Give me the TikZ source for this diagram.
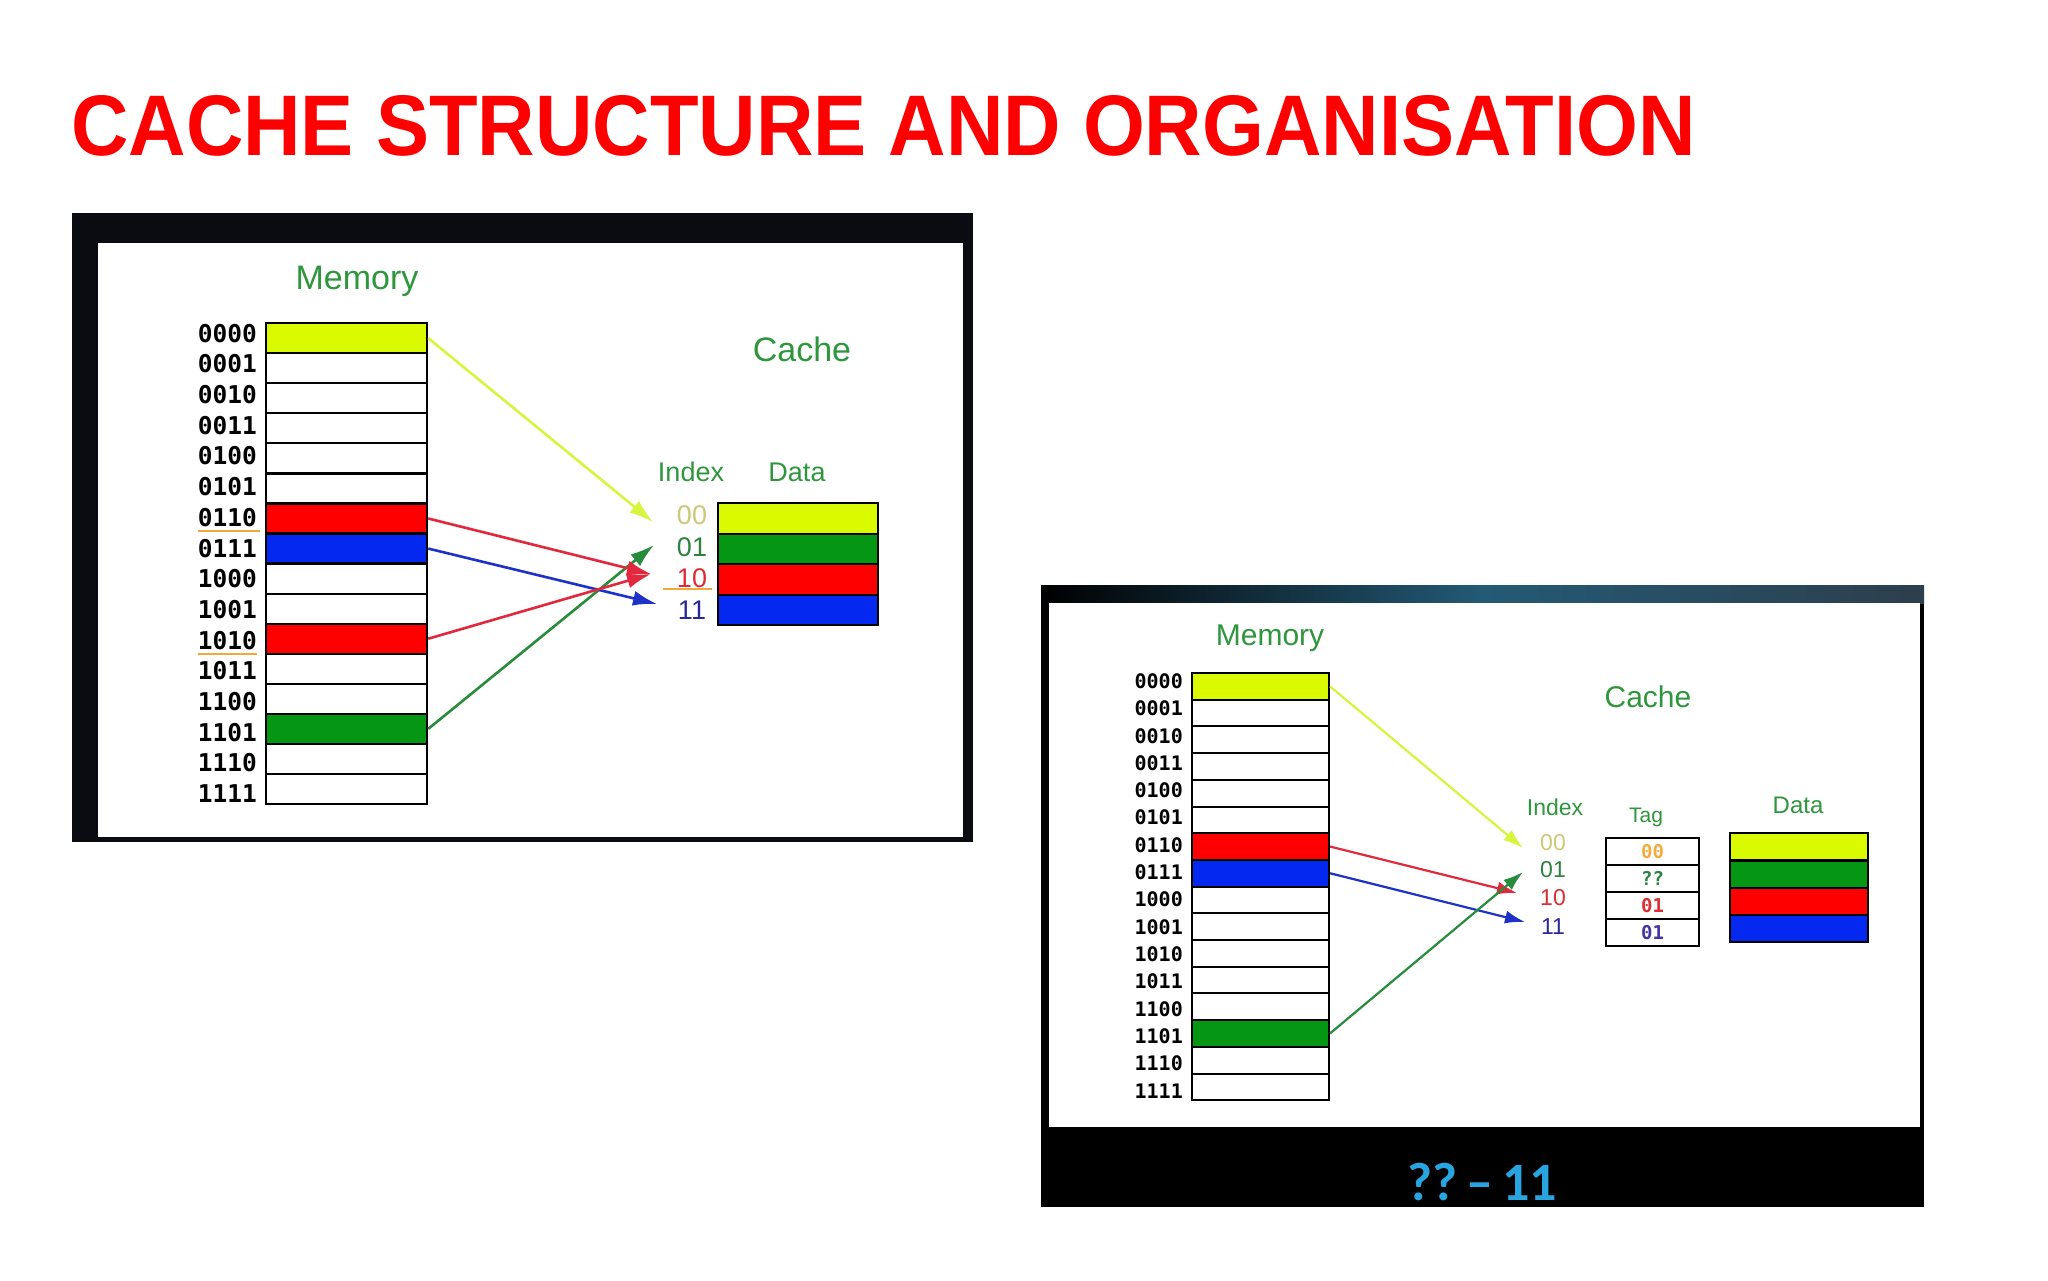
\documentclass[tikz,border=0pt]{standalone}
\usepackage{fontspec}
\setmainfont{Liberation Sans}
\newfontfamily\monob{DejaVu Sans Mono}
\newfontfamily\calib{Carlito}
\usetikzlibrary{arrows.meta}
\definecolor{tgreen}{RGB}{46,150,60}
\definecolor{myel}{RGB}{218,250,0}
\definecolor{mred}{RGB}{255,0,0}
\definecolor{mblue}{RGB}{5,40,240}
\definecolor{mgreen}{RGB}{5,150,20}
\definecolor{ayel}{RGB}{215,245,60}
\definecolor{ared}{RGB}{225,40,60}
\definecolor{ablue}{RGB}{30,50,200}
\definecolor{agreen}{RGB}{40,140,60}
\definecolor{ixyel}{RGB}{205,200,120}
\definecolor{ixgreen}{RGB}{45,130,65}
\definecolor{ixred}{RGB}{220,45,50}
\definecolor{ixblue}{RGB}{40,40,150}
\definecolor{uline}{RGB}{240,170,60}
\definecolor{tagor}{RGB}{245,170,60}
\definecolor{tagpur}{RGB}{70,50,160}
\definecolor{cyanT}{RGB}{40,165,225}
\definecolor{frameblk}{RGB}{10,12,18}
\definecolor{tealband}{RGB}{35,90,118}
\definecolor{slateband}{RGB}{45,62,76}
\tikzset{
  cellL/.style={draw=black, line width=2.2pt, inner sep=0pt, minimum width=161pt, minimum height=30.06pt, anchor=north west},
  cellR/.style={draw=black, line width=2pt, inner sep=0pt, minimum width=137pt, minimum height=26.7pt, anchor=north west},
  addrL/.style={font=\monob\bfseries\fontsize{24.5}{26}\selectfont, anchor=east, inner sep=0pt},
  addrR/.style={font=\monob\bfseries\fontsize{20}{22}\selectfont, anchor=east, inner sep=0pt},
  headL/.style={text=tgreen, font=\fontsize{34}{38}\selectfont, inner sep=0pt},
  headR/.style={text=tgreen, font=\fontsize{30}{34}\selectfont, inner sep=0pt},
  subL/.style={text=tgreen, font=\fontsize{27}{30}\selectfont, inner sep=0pt},
  idxL/.style={font=\fontsize{27}{30}\selectfont, inner sep=0pt},
  idxR/.style={font=\fontsize{23}{26}\selectfont, inner sep=0pt},
  tagcell/.style={draw=black, line width=2pt, inner sep=0pt, minimum width=93pt, minimum height=27pt, anchor=north west, font=\monob\bfseries\fontsize{19}{21}\selectfont},
  arrL/.style={line width=2.6pt, -{Latex[length=24pt,width=15pt]}},
  arrR/.style={line width=2.2pt, -{Latex[length=20pt,width=13pt]}},
}
\begin{document}
\begin{tikzpicture}[x=1pt,y=-1pt]
\useasboundingbox (0,0) rectangle (2048,1280);
\fill[white] (0,0) rectangle (2048,1280);
% title
\node[anchor=base west, text=red, font=\bfseries\fontsize{86}{90}\selectfont, inner sep=0pt] (title) at (71,155) {\scalebox{0.925}[1]{CACHE STRUCTURE AND ORGANISATION}};

% ===== left panel =====
\fill[frameblk] (72,213) rectangle (973,842);
\fill[white] (98,243) rectangle (963,837);
\node[headL] (lmem) at (357,281) {Memory};
\node[headL] (lcache) at (802,349) {Cache};
\node[subL] (lindex) at (691,472) {Index};
\node[subL] (ldata) at (797,472) {Data};
\foreach \i/\lab/\col in {0/0000/myel,1/0001/white,2/0010/white,3/0011/white,4/0100/white,5/0101/white,6/0110/mred,7/0111/mblue,8/1000/white,9/1001/white,10/1010/mred,11/1011/white,12/1100/white,13/1101/mgreen,14/1110/white,15/1111/white}{
  \node[cellL, fill=\col] (L\i) at (265,{322+\i*30.06}) {};
  \pgfmathsetmacro{\ys}{5-0.65*\i}
  \node[addrL] (La\i) at ([xshift=-8pt,yshift=\ys pt]L\i.west) {\lab};
}
\draw[uline, line width=2pt] ([yshift=-4pt]La6.south west) -- ([xshift=3pt,yshift=-4pt]La6.south east);
\draw[uline, line width=2pt] ([yshift=-4pt]La10.south west) -- ([yshift=-4pt]La10.south east);
\foreach \i/\col in {0/myel,1/mgreen,2/mred,3/mblue}{
  \node[draw=black, line width=2.4pt, fill=\col, inner sep=0pt, minimum width=160pt, minimum height=30.5pt, anchor=north west] (LD\i) at (717,{502+\i*30.5}) {};
}
\node[idxL, text=ixyel] (LI0) at (692,515) {00};
\node[idxL, text=ixgreen] (LI1) at (692,547) {01};
\node[idxL, text=ixred] (LI2) at (692,578) {10};
\node[idxL, text=ixblue] (LI3) at (692,610) {11};
\draw[uline, line width=2pt] (663,589) -- (712,589);
\coordinate (tLY) at (653,522);
\coordinate (tLG) at (654,545);
\coordinate (tLR) at (651,574);
\coordinate (tLB) at (657,604);
\draw[arrL, ayel] (L0.east) -- (tLY);
\draw[arrL, agreen] (L13.east) -- (tLG);
\draw[arrL, ablue] (L7.east) -- (tLB);
\draw[arrL, ared] (L6.east) -- (tLR);
\draw[arrL, ared] (L10.east) -- (tLR);

% ===== right panel =====
\fill[black] (1041,585) rectangle (1924,1207);
\shade[left color=black, right color=slateband, middle color=tealband] (1041,585) rectangle (1924,603);
\fill[white] (1049,603) rectangle (1920,1127);
\node[text=cyanT, font=\calib\bfseries\fontsize{54}{58}\selectfont, inner sep=0pt] (qq) at (1482,1182) {??\,–\,11};
\node[headR] (rmem) at (1270,638) {Memory};
\node[headR] (rcache) at (1648,697) {Cache};
\node[text=tgreen, font=\fontsize{23}{26}\selectfont, inner sep=0pt] (rindex) at (1555,807) {Index};
\node[text=tgreen, font=\fontsize{21}{24}\selectfont, inner sep=0pt] (rtag) at (1646,817) {Tag};
\node[text=tgreen, font=\fontsize{24}{27}\selectfont, inner sep=0pt] (rdata) at (1798,805) {Data};
\foreach \i/\lab/\col in {0/0000/myel,1/0001/white,2/0010/white,3/0011/white,4/0100/white,5/0101/white,6/0110/mred,7/0111/mblue,8/1000/white,9/1001/white,10/1010/white,11/1011/white,12/1100/white,13/1101/mgreen,14/1110/white,15/1111/white}{
  \node[cellR, fill=\col] (R\i) at (1191,{672+\i*26.7}) {};
  \pgfmathsetmacro{\ys}{5.3-0.63*\i}
  \node[addrR] (Ra\i) at ([xshift=-8pt,yshift=\ys pt]R\i.west) {\lab};
}
\node[idxR, text=ixyel] (RI0) at (1553,843) {00};
\node[idxR, text=ixgreen] (RI1) at (1553,870) {01};
\node[idxR, text=ixred] (RI2) at (1553,898) {10};
\node[idxR, text=ixblue] (RI3) at (1553,927) {11};
\node[tagcell, text=tagor] (RT0) at (1605,837) {00};
\node[tagcell, text=ixgreen] (RT1) at (1605,864) {??};
\node[tagcell, text=ixred] (RT2) at (1605,891) {01};
\node[tagcell, text=tagpur] (RT3) at (1605,918) {01};
\foreach \i/\col in {0/myel,1/mgreen,2/mred,3/mblue}{
  \node[draw=black, line width=2.2pt, fill=\col, inner sep=0pt, minimum width=138pt, minimum height=27.3pt, anchor=north west] (RD\i) at (1729,{832+\i*27.3}) {};
}
\coordinate (tRY) at (1523,848);
\coordinate (tRG) at (1523,872);
\coordinate (tRR) at (1517,893);
\coordinate (tRB) at (1525,922);
\draw[arrR, ayel] (R0.east) -- (tRY);
\draw[arrR, ared] (R6.east) -- (tRR);
\draw[arrR, ablue] (R7.east) -- (tRB);
\draw[arrR, agreen] (R13.east) -- (tRG);
\end{tikzpicture}
\end{document}
